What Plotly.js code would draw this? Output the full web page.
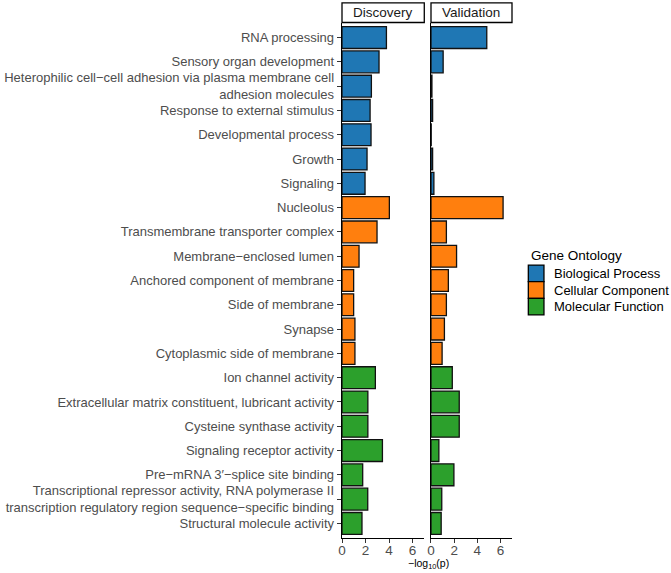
<!DOCTYPE html>
<html>
<head>
<meta charset="utf-8">
<script src="https://cdn.plot.ly/plotly-3.0.1.min.js"></script>
<style>html,body{margin:0;padding:0;background:#fff}#chart{width:671px;height:573px}</style>
</head>
<body>
<div id="chart"></div>
<script>
var terms = [
  "RNA processing",
  "Sensory organ development",
  "Heterophilic cell\u2212cell adhesion via plasma membrane cell<br>adhesion molecules",
  "Response to external stimulus",
  "Developmental process",
  "Growth",
  "Signaling",
  "Nucleolus",
  "Transmembrane transporter complex",
  "Membrane\u2212enclosed lumen",
  "Anchored component of membrane",
  "Side of membrane",
  "Synapse",
  "Cytoplasmic side of membrane",
  "Ion channel activity",
  "Extracellular matrix constituent, lubricant activity",
  "Cysteine synthase activity",
  "Signaling receptor activity",
  "Pre\u2212mRNA 3\u2032\u2212splice site binding",
  "Transcriptional repressor activity, RNA polymerase II<br>transcription regulatory region sequence\u2212specific binding",
  "Structural molecule activity"
];
var ontology = [
  "Biological Process","Biological Process","Biological Process","Biological Process","Biological Process","Biological Process","Biological Process",
  "Cellular Component","Cellular Component","Cellular Component","Cellular Component","Cellular Component","Cellular Component","Cellular Component",
  "Molecular Function","Molecular Function","Molecular Function","Molecular Function","Molecular Function","Molecular Function","Molecular Function"
];
var discovery = [3.78, 3.15, 2.5, 2.39, 2.47, 2.13, 1.96,
                 4.03, 2.98, 1.45, 0.99, 0.99, 1.1, 1.1,
                 2.84, 2.2, 2.2, 3.44, 1.76, 2.19, 1.7];
var validation = [4.82, 1.05, 0.08, 0.14, 0.02, 0.14, 0.25,
                  6.23, 1.33, 2.21, 1.5, 1.33, 1.16, 0.96,
                  1.84, 2.44, 2.44, 0.68, 1.98, 0.93, 0.88];
var groups = ["Biological Process", "Cellular Component", "Molecular Function"];
var groupColors = ["#1f77b4", "#ff7f0e", "#2ca02c"];
var panels = ["Discovery", "Validation"];
var xTicks = [0, 2, 4, 6];
var legendTitle = "Gene Ontology";
var xTitle = "\u2212log<sub>10</sub>(p)";

var FONT = "Liberation Sans, Arial, sans-serif";
var idx = terms.map(function(_, i){ return i; });
var traces = [];
[discovery, validation].forEach(function(vals, p){
  groups.forEach(function(g, gi){
    var sel = idx.filter(function(i){ return ontology[i] === g; });
    traces.push({
      type: "bar",
      orientation: "h",
      name: g,
      showlegend: false,
      x: sel.map(function(i){ return vals[i]; }),
      y: sel,
      xaxis: p === 0 ? "x" : "x2",
      yaxis: p === 0 ? "y" : "y2",
      width: 0.9,
      marker: {color: groupColors[gi], line: {color: "#111", width: 1.3}},
      hoverinfo: "x+name"
    });
  });
});

var axisCommon = {
  range: [0, 7],
  tickvals: xTicks,
  ticktext: xTicks.map(String),
  ticks: "outside",
  ticklen: 4,
  tickcolor: "#333",
  tickwidth: 1,
  ticklabelstandoff: -5,
  showline: true,
  linecolor: "#000",
  linewidth: 1.3,
  showgrid: false,
  zeroline: false,
  automargin: false,
  tickfont: {family: FONT, size: 13.5, color: "#4d4d4d"}
};
var yCommon = {
  range: [20.6, -0.6],
  showline: true,
  linecolor: "#000",
  linewidth: 1.3,
  showgrid: false,
  zeroline: false,
  automargin: false
};

// legend geometry (paper units)
var keyX0 = 1.096, keyX1 = 1.188, keyTop = 0.530, keyH = 0.0323, textX = 1.233;

var shapes = panels.map(function(_, p){
  return {type: "rect", xref: (p === 0 ? "x" : "x2") + " domain", yref: "paper",
          x0: 0, x1: 1, y0: 1.001, y1: 1.039,
          line: {color: "#000", width: 1.3}, fillcolor: "#fff", layer: "above"};
});
var annotations = panels.map(function(t, p){
  return {text: t, xref: (p === 0 ? "x" : "x2") + " domain", yref: "paper",
          x: 0.5, y: 1.02, xanchor: "center", yanchor: "middle", showarrow: false,
          font: {family: FONT, size: 13.5, color: "#1a1a1a"}};
});
annotations.push({
  text: xTitle, xref: "paper", yref: "paper", x: 0.506, y: -0.05,
  xanchor: "center", yanchor: "middle", showarrow: false,
  font: {family: FONT, size: 10.5, color: "#000"}
});
annotations.push({
  text: legendTitle, xref: "paper", yref: "paper", x: 1.1, y: 0.5495,
  xanchor: "left", yanchor: "middle", showarrow: false,
  font: {family: FONT, size: 13.5, color: "#000"}
});
groups.forEach(function(g, gi){
  var top = keyTop - gi * keyH;
  shapes.push({type: "rect", xref: "paper", yref: "paper",
               x0: keyX0, x1: keyX1, y0: top - keyH, y1: top,
               line: {color: "#000", width: 1.3}, fillcolor: groupColors[gi]});
  annotations.push({text: g, xref: "paper", yref: "paper", x: textX, y: top - keyH / 2,
                    xanchor: "left", yanchor: "middle", showarrow: false,
                    font: {family: FONT, size: 13, color: "#000"}});
});

var layout = {
  width: 671,
  height: 573,
  margin: {l: 342, r: 159, t: 23, b: 35, autoexpand: false},
  paper_bgcolor: "#fff",
  plot_bgcolor: "#fff",
  barmode: "overlay",
  showlegend: false,
  xaxis: Object.assign({}, axisCommon, {domain: [0, 0.484], anchor: "y"}),
  xaxis2: Object.assign({}, axisCommon, {domain: [0.5235, 1], anchor: "y2"}),
  yaxis: Object.assign({}, yCommon, {
    anchor: "x",
    tickvals: idx,
    ticktext: terms,
    ticks: "outside",
    ticklen: 4,
    tickcolor: "#333",
    tickfont: {family: FONT, size: 13, color: "#4d4d4d"}
  }),
  yaxis2: Object.assign({}, yCommon, {anchor: "x2", matches: "y", showticklabels: false, ticks: ""}),
  shapes: shapes,
  annotations: annotations
};

Plotly.newPlot("chart", traces, layout, {displayModeBar: false, staticPlot: true});
</script>
</body>
</html>
